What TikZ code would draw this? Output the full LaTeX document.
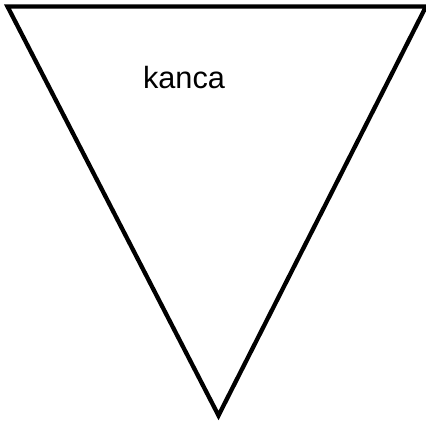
\documentclass[tikz,border=0pt]{standalone}
\usepackage{fontspec}
\setmainfont{Liberation Sans}
\begin{document}
\begin{tikzpicture}[x=1pt,y=-1pt,
  tri/.style={draw=black,line width=4.3pt,miter limit=10,line join=miter},
  lbl/.style={font=\fontsize{30.7}{36}\selectfont,inner sep=0pt,anchor=base}]
\useasboundingbox (0,0) rectangle (426,423);
\coordinate (tl) at (7.5,6.5);
\coordinate (tr) at (426,6.5);
\coordinate (bt) at (218.5,415.5);
\draw[tri] (tl) -- (tr) -- (bt) -- cycle;
\node[lbl] (t) at (184,88) {kanca};
\end{tikzpicture}
\end{document}
